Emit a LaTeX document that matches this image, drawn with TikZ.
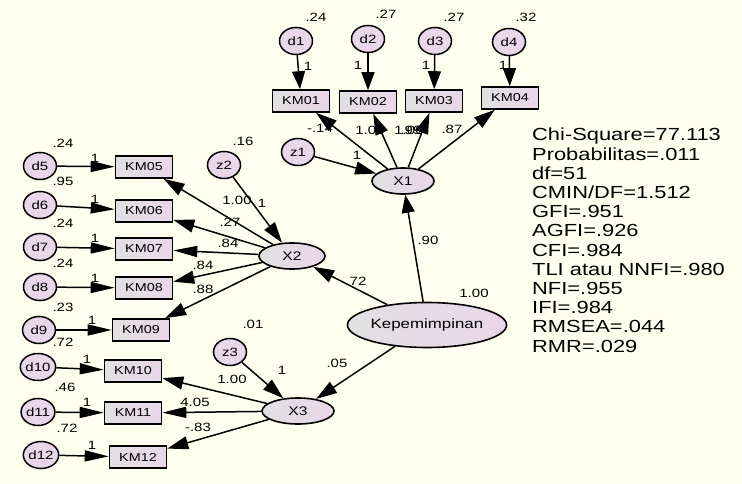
\documentclass[tikz,border=0pt]{standalone}
\usepackage{fontspec}
\setmainfont[FakeStretch=1.25]{Liberation Sans}
\usetikzlibrary{shapes.geometric,arrows.meta}
\definecolor{bgcream}{RGB}{255,255,240}
\definecolor{errpink}{RGB}{234,214,234}
\definecolor{boxgray}{RGB}{224,224,224}

\begin{document}
\begin{tikzpicture}[x=1pt,y=-1pt,
  err/.style={ellipse,draw,line width=1.5pt,fill=errpink,minimum width=33pt,minimum height=27pt,inner sep=0pt,font=\fontsize{12}{12}\selectfont},
  obs/.style={rectangle,draw,line width=1.6pt,left color=boxgray,right color=errpink,minimum width=57pt,minimum height=22pt,inner sep=0pt,font=\fontsize{11.5}{12}\selectfont},
  lat/.style={ellipse,draw,line width=1.6pt,left color=boxgray,right color=errpink,minimum width=62pt,minimum height=26pt,inner sep=0pt,font=\fontsize{12.5}{13}\selectfont},
  arr/.style={-{Triangle[length=21pt,width=13pt]},line width=1.5pt},
  harr/.style={-{Triangle[length=24pt,width=11pt]},line width=1.5pt},
  varr/.style={-{Triangle[length=18pt,width=13pt]},line width=1.5pt},
  est/.style={inner sep=0pt,font=\fontsize{12}{12}\selectfont}
  ]
  \fill[bgcream] (0,0) rectangle (742,484);

  % latent variables
  \node[lat,minimum width=144pt,minimum height=45pt,font=\fontsize{13.5}{14}\selectfont] (kep) at (427,325) {Kepemimpinan};
  \node[lat] (x1) at (403,181) {X1};
  \node[lat,minimum width=66pt] (x2) at (292,256) {X2};
  \node[lat,minimum width=72pt] (x3) at (298,411) {X3};
  \node[err] (z1) at (298,152) {z1};
  \node[err] (z2) at (224,165) {z2};
  \node[err] (z3) at (230,352) {z3};

  % indicators X1
  \node[obs] (km01) at (301,101) {KM01};
  \node[obs] (km02) at (368,102) {KM02};
  \node[obs] (km03) at (434,101) {KM03};
  \node[obs] (km04) at (510,98) {KM04};
  \node[err] (d1) at (296,41) {d1};
  \node[err] (d2) at (368,39) {d2};
  \node[err] (d3) at (435,41) {d3};
  \node[err] (d4) at (509,42) {d4};

  % indicators X2
  \node[obs] (km05) at (144,167) {KM05};
  \node[obs] (km06) at (144,211) {KM06};
  \node[obs] (km07) at (144,249) {KM07};
  \node[obs] (km08) at (144,288) {KM08};
  \node[obs] (km09) at (141,330) {KM09};
  \node[err] (d5) at (40,166) {d5};
  \node[err] (d6) at (40,205) {d6};
  \node[err] (d7) at (40,247) {d7};
  \node[err] (d8) at (40,287) {d8};
  \node[err] (d9) at (39,330) {d9};

  % indicators X3
  \node[obs] (km10) at (133,371) {KM10};
  \node[obs] (km11) at (133,413) {KM11};
  \node[obs] (km12) at (138,457) {KM12};
  \node[err] (d10) at (38,367) {d10};
  \node[err] (d11) at (38,412) {d11};
  \node[err] (d12) at (41,455) {d12};

  % paths
  \draw[varr] (kep) -- (x1);
  \draw[arr] (kep) -- (x2);
  \draw[arr] (kep) -- (x3);
  \draw[arr] (z1) -- (x1);
  \draw[arr] (z2) -- (x2);
  \draw[arr] (z3) -- (x3);
  \foreach \k in {01,02,03,04} \draw[arr] (x1) -- (km\k);
  \foreach \k in {05,06,08,09} \draw[arr] (x2) -- (km\k);
  \draw[harr] (x2) -- (km07);
  \draw[arr] (x3) -- (km10);
  \draw[harr] (x3) -- (km11);
  \draw[arr] (x3) -- (km12);
  \draw[varr] (d1) -- (km01);
  \draw[varr] (d2) -- (km02);
  \draw[varr] (d3) -- (km03);
  \draw[varr] (d4) -- (km04);
  \draw[harr] (d5) -- (km05);
  \draw[harr] (d6) -- (km06);
  \draw[harr] (d7) -- (km07);
  \draw[harr] (d8) -- (km08);
  \draw[harr] (d9) -- (km09);
  \draw[harr] (d10) -- (km10);
  \draw[harr] (d11) -- (km11);
  \draw[harr] (d12) -- (km12);

  % estimates
  \node[est] (v1) at (316,17) {.24};
  \node[est] (v2) at (386,14) {.27};
  \node[est] (v3) at (454,17) {.27};
  \node[est] (v4) at (526,17) {.32};
  \node[est] (f1) at (308,66) {1};
  \node[est] (f2) at (358,65) {1};
  \node[est] (f3) at (426,65) {1};
  \node[est] (f4) at (503,65) {1};
  \node[est] (l1) at (320,128) {-.14};
  \node[est] (l2) at (370,130) {1.00};
  \node[est] (l3) at (409,130) {1.00};
  \node[est] (l3b) at (411,130) {.99};
  \node[est] (l4) at (452,129) {.87};
  \node[est] (fz1) at (357,155) {1};
  \node[est] (g1) at (428,240) {.90};
  \node[est] (g2) at (356,281) {.72};
  \node[est] (g3) at (337,363) {.05};
  \node[est] (vk) at (474,293) {1.00};

  \node[est] (vz2) at (243,141) {.16};
  \node[est] (fz2) at (262,203) {1};
  \node[est] (l5) at (237,200) {1.00};
  \node[est] (l6) at (230,222) {.27};
  \node[est] (l7) at (228,243) {.84};
  \node[est] (l8) at (203,265) {.84};
  \node[est] (l9) at (203,289) {.88};
  \node[est] (v5) at (63,143) {.24};
  \node[est] (v6) at (63,181) {.95};
  \node[est] (v7) at (63,223) {.24};
  \node[est] (v8) at (63,263) {.24};
  \node[est] (v9) at (63,307) {.23};
  \node[est] (v10) at (63,342) {.72};
  \node[est] (v11) at (65,387) {.46};
  \node[est] (v12) at (67,428) {.72};
  \node[est] (f5) at (95,158) {1};
  \node[est] (f6) at (95,199) {1};
  \node[est] (f7) at (95,238) {1};
  \node[est] (f8) at (95,278) {1};
  \node[est] (f9) at (92,320) {1};
  \node[est] (f10) at (87,359) {1};
  \node[est] (f11) at (87,402) {1};
  \node[est] (f12) at (92,445) {1};

  \node[est] (vz3) at (253,324) {.01};
  \node[est] (fz3) at (282,370) {1};
  \node[est] (l10) at (232,379) {1.00};
  \node[est] (l11) at (195,402) {4.05};
  \node[est] (l12) at (198,427) {-.83};

  % fit indices
  \node[anchor=north west,align=left,inner sep=0pt,font=\fontsize{17.5}{19.2}\selectfont] (fit) at (532,128) {
    Chi-Square=77.113\\
    Probabilitas=.011\\
    df=51\\
    CMIN/DF=1.512\\
    GFI=.951\\
    AGFI=.926\\
    CFI=.984\\
    TLI atau NNFI=.980\\
    NFI=.955\\
    IFI=.984\\
    RMSEA=.044\\
    RMR=.029};
\end{tikzpicture}
\end{document}
